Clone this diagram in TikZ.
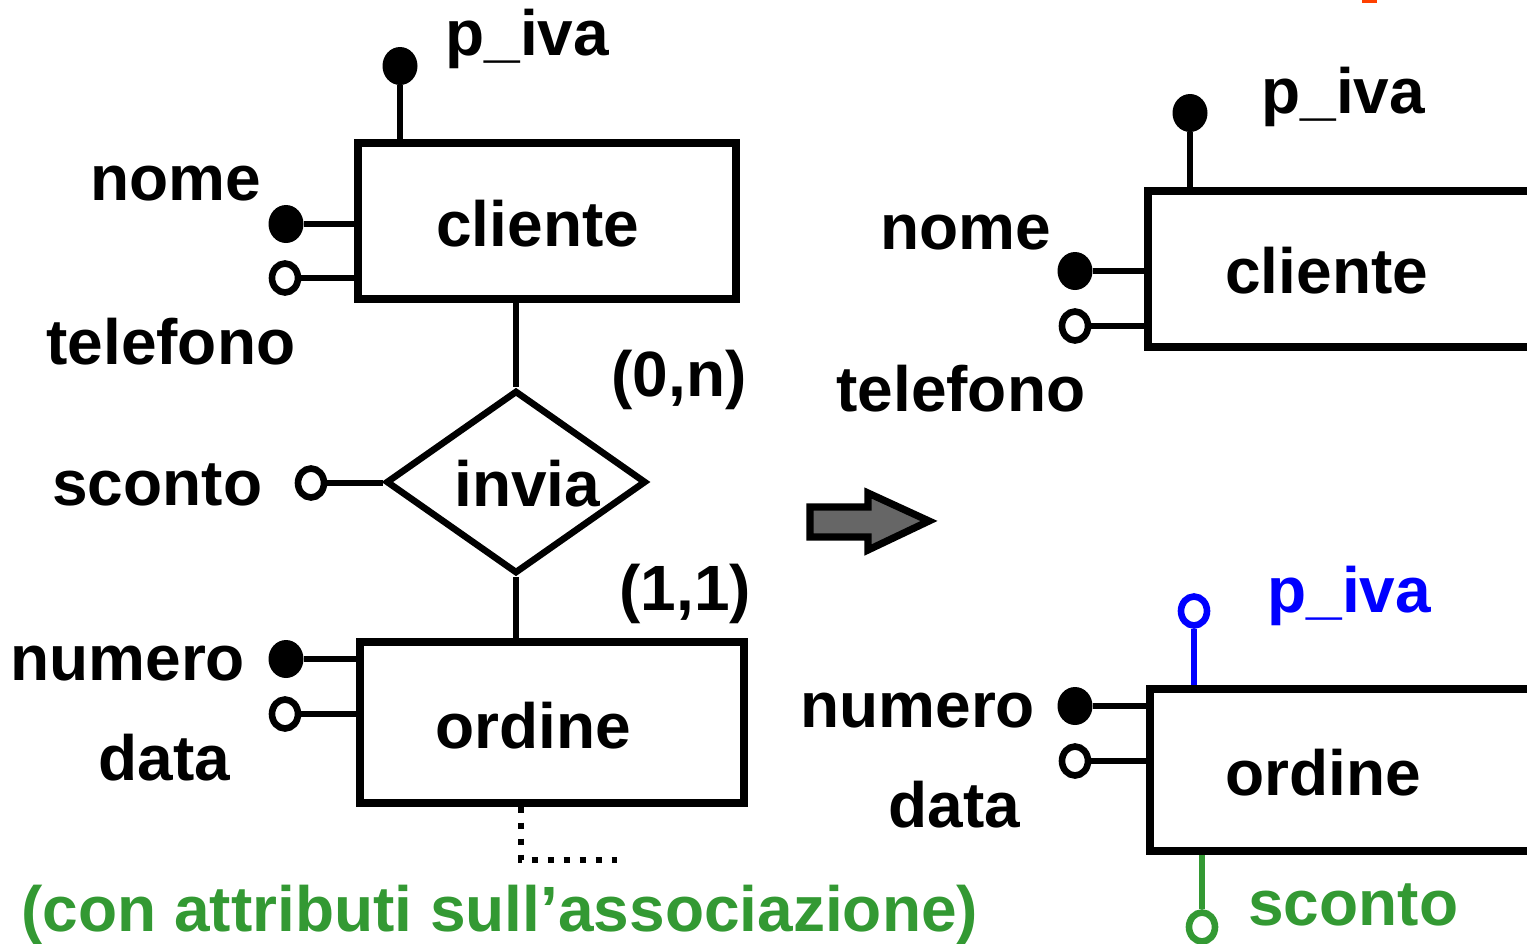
\documentclass[tikz,border=0pt]{standalone}
\usepackage{fontspec}
\newfontfamily\af{Liberation Sans}
\usetikzlibrary{shapes.geometric}
\definecolor{grn}{RGB}{51,153,51}
\definecolor{orng}{RGB}{255,64,0}
\begin{document}
\begin{tikzpicture}[x=0.5pt,y=-0.5pt,
 lbl/.style={font=\af\bfseries\fontsize{32}{36}\selectfont, inner sep=0pt, anchor=base west},
 ent/.style={draw, line width=3.6pt, inner sep=0pt},
 conn/.style={line width=3.3pt},
 keyattr/.style={ellipse, fill, inner sep=0pt, minimum width=17.5pt, minimum height=19pt},
 optattr/.style={ellipse, draw, line width=3.3pt, fill=white, inner sep=0pt, minimum width=13pt, minimum height=14.5pt},
 dotline/.style={line width=3pt, dash pattern=on 3pt off 5pt},
 bigarrow/.style={line width=3.6pt, fill=black!60, line join=miter}
]
\clip (0,0) rectangle (1527,943);
% ---------- left ----------
\node[ent, minimum width=189pt, minimum height=78pt] (cliL) at (547,221) {};
\node[lbl] (tcliL) at (436,246) {cliente};
\node[keyattr] (pivaL) at (400,66) {};
\draw[conn] (pivaL) -- (pivaL |- cliL.north);
\node[lbl] (tpivaL) at (445,55) {p\_iva};
\node[keyattr] (nomeL) at (286,224) {};
\draw[conn] (nomeL) -- (nomeL -| cliL.west);
\node[lbl] (tnomeL) at (90,200) {nome};
\node[optattr] (telL) at (285,278) {};
\draw[conn] (telL) -- (telL -| cliL.west);
\node[lbl] (ttelL) at (46,364) {telefono};
\node[draw, diamond, line width=3.3pt, minimum width=130pt, minimum height=91.5pt, inner sep=0pt] (inv) at (516,482) {};
\draw[conn] (inv.north |- cliL.south) -- (inv.north);
\node[lbl] (tinv) at (454,506) {invia};
\node[optattr] (scoL) at (311,483) {};
\draw[conn] (scoL) -- (scoL -| inv.west);
\node[lbl] (tscoL) at (52,505) {sconto};
\node[lbl] (card1) at (611,396) {(0,n)};
\node[lbl] (card2) at (619,610) {(1,1)};
\node[ent, minimum width=192pt, minimum height=80.5pt] (ordL) at (552,722.5) {};
\draw[conn] (inv.south) -- (inv.south |- ordL.north);
\node[lbl] (tordL) at (435,748) {ordine};
\node[keyattr] (numL) at (286,659) {};
\draw[conn] (numL) -- (numL -| ordL.west);
\node[lbl] (tnumL) at (10,680) {numero};
\node[optattr] (datL) at (285,714) {};
\draw[conn] (datL) -- (datL -| ordL.west);
\node[lbl] (tdatL) at (98,780) {data};
\coordinate (dc) at (521,860);
\coordinate (de) at (617,860);
\draw[dotline] (dc |- ordL.south) -- (dc) -- (de);
\node[lbl, text=grn] (note) at (21,931) {(con attributi sull’associazione)};
% ---------- arrow ----------
\draw[bigarrow] (810,507) -- (868,507) -- (868,493) -- (929,521) -- (868,550) -- (868,537) -- (810,537) -- cycle;
% ---------- right ----------
\node[ent, minimum width=206pt, minimum height=78pt] (cliR) at (1354,269) {};
\node[lbl] (tcliR) at (1225,293) {cliente};
\node[keyattr] (pivaR) at (1190,113) {};
\draw[conn] (pivaR) -- (pivaR |- cliR.north);
\node[lbl] (tpivaR) at (1261,113) {p\_iva};
\node[keyattr] (nomeR) at (1075,271) {};
\draw[conn] (nomeR) -- (nomeR -| cliR.west);
\node[lbl] (tnomeR) at (880,249) {nome};
\node[optattr] (telR) at (1075,326) {};
\draw[conn] (telR) -- (telR -| cliR.west);
\node[lbl] (ttelR) at (836,411) {telefono};
\node[ent, minimum width=205pt, minimum height=81pt] (ordR) at (1355,770) {};
\node[lbl] (tordR) at (1225,795) {ordine};
\node[optattr, draw=blue] (pivaB) at (1194,611) {};
\draw[conn, blue] (pivaB) -- (pivaB |- ordR.north);
\node[lbl, text=blue] (tpivaB) at (1267,612) {p\_iva};
\node[keyattr] (numR) at (1075,706) {};
\draw[conn] (numR) -- (numR -| ordR.west);
\node[lbl] (tnumR) at (800,727) {numero};
\node[optattr] (datR) at (1075,761) {};
\draw[conn] (datR) -- (datR -| ordR.west);
\node[lbl] (tdatR) at (888,827) {data};
\node[optattr, draw=grn] (scoR) at (1202,927) {};
\draw[conn, grn] (scoR) -- (scoR |- ordR.south);
\node[lbl, text=grn] (tscoR) at (1248,925) {sconto};
\fill[orng] (1362,0) rectangle (1377,3);
\end{tikzpicture}
\end{document}
